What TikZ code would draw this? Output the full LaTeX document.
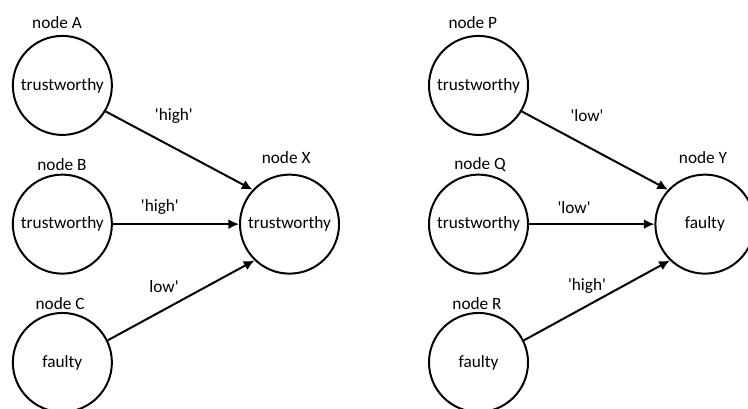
\documentclass[tikz,border=0pt]{standalone}
\usepackage{fontspec}
\setmainfont{Carlito}
\usepackage{tikz}
\usetikzlibrary{arrows.meta,%
                positioning}
\newcommand{\apos}{\textquotesingle}

\begin{document}
\begin{tikzpicture} [font=\fontsize{13}{15}\selectfont,
        peer/.style={circle, draw, line width=1.5pt, minimum size=2.62cm, inner sep=0pt},
        vote/.style={-{Latex[length=8pt,width=7.5pt]}, line width=1.5pt}]
        \useasboundingbox (0,0) rectangle (19.79,10.82);
        % left group
        \node[peer] (A) at (1.65,8.56) {trustworthy};
        \node[peer] (B) at (1.65,4.89) {trustworthy};
        \node[peer] (C) at (1.65,1.23) {faulty};
        \node[peer] (X) at (7.66,4.89) {trustworthy};
        \node (lA) at (1.51,10.21) {node A};
        \node (lB) at (1.64,6.46) {node B};
        \node (lC) at (1.59,2.80) {node C};
        \node (lX) at (7.57,6.66) {node X};
        \draw[vote] (A.-31) -- (X.137);
        \draw[vote] (B.east) -- (X.west);
        \draw[vote] (C.26) -- (X.-134);
        \node (AX) at (4.60,7.75) {\apos high\apos};
        \node (BX) at (4.23,5.34) {\apos high\apos};
        \node (CX) at (4.34,3.25) {low\apos};
        % right group
        \node[peer] (P) at (12.66,8.56) {trustworthy};
        \node[peer] (Q) at (12.66,4.89) {trustworthy};
        \node[peer] (R) at (12.66,1.23) {faulty};
        \node[peer] (Y) at (18.65,4.89) {faulty};
        \node (lP) at (12.51,10.21) {node P};
        \node (lQ) at (12.70,6.46) {node Q};
        \node (lR) at (12.62,2.80) {node R};
        \node (lY) at (18.60,6.66) {node Y};
        \draw[vote] (P.-31) -- (Y.137);
        \draw[vote] (Q.east) -- (Y.west);
        \draw[vote] (R.26) -- (Y.-134);
        \node (PY) at (15.53,7.75) {\apos low\apos};
        \node (QY) at (15.19,5.34) {\apos low\apos};
        \node (RY) at (15.53,3.25) {\apos high\apos};
    \end{tikzpicture}
\end{document}
